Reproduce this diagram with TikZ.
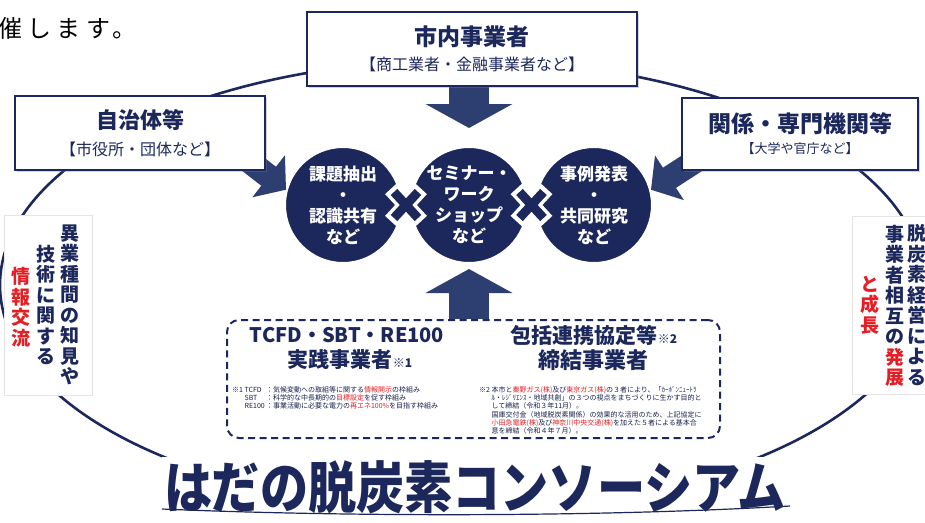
\documentclass[tikz,border=0pt]{standalone}
\usepackage{fontspec}
\usepackage{graphicx}
\newfontfamily\jp{Noto Sans CJK JP}
\usetikzlibrary{arrows.meta,positioning,calc,shadows,backgrounds}
\definecolor{navy}{RGB}{28,40,92}
\definecolor{yajirushi}{RGB}{45,62,112}
\definecolor{aka}{RGB}{228,30,36}
\newcommand{\fs}[2]{\fontsize{#1}{#2}\selectfont}
\tikzset{
  orgbox/.style={draw=navy,line width=1.5pt,fill=white,align=center,text=navy,
    drop shadow={shadow xshift=1.5pt,shadow yshift=-1.5pt,opacity=.35}},
  maru/.style={circle,fill=navy,draw=white,line width=2pt,minimum size=116pt,inner sep=0pt,
    text=white,align=center,font=\jp\bfseries\fs{17}{21}},
  bigarr/.style={yajirushi,line width=40pt,-{Triangle[width=86pt,length=24pt]}},
  smallarr/.style={yajirushi,line width=24pt,-{Triangle[width=52pt,length=22pt]}},
  tate/.style={align=center,inner sep=0pt,text=navy,font=\jp\bfseries\fs{19}{20.5}},
  tatebox/.style={fill=white,draw=black!10,line width=.4pt,inner sep=0pt},
  midashi/.style={text=navy,inner sep=0pt,font=\jp\bfseries\fs{21}{25}},
  note/.style={inner sep=0pt,anchor=north west,font=\jp\fs{7}{7.7},text=navy!80!black},
  titlefont/.style={inner sep=3pt,font=\jp\bfseries\fs{56}{60}},
}

\begin{document}
\begin{tikzpicture}[x=1pt,y=-1pt]
\useasboundingbox (0,0) rectangle (925,522);
\clip (0,0) rectangle (925,522);

\node[anchor=west,font=\jp\fs{24}{26},inner sep=0pt] (kaisai) at (-2,28) {\addfontfeature{LetterSpace=22}催します。};

% 3つの丸
\node[maru] (kadai) at (343,205) {課題抽出\\・\\認識共有\\など};
\node[maru] (seminar) at (469,205) {セミナー・\\ワーク\\ショップ\\など};
\node[maru] (jirei) at (594,205) {事例発表\\・\\共同研究\\など};

\coordinate (kake1) at ($(kadai)!.5!(seminar)$);
\coordinate (kake2) at ($(seminar)!.5!(jirei)$);
\foreach \k in {kake1,kake2} {
  \draw[white,line width=16pt] (\k)+(-15,-16.3) -- +(15,16.3) (\k)+(-15,16.3) -- +(15,-16.3);
  \draw[navy,line width=9pt] (\k)+(-12,-13) -- +(12,13) (\k)+(-12,13) -- +(12,-13);
}

% 箱
\node[orgbox,minimum width=330pt,minimum height=74pt,font=\jp\fs{16}{25}] (shinai) at (472,49)
  {{\bfseries\fs{23}{25}市内事業者}\\【商工業者・金融事業者など】};
\node[orgbox,minimum width=250pt,minimum height=74pt,font=\jp\fs{16}{27}] (jichi) at (140,133)
  {{\bfseries\fs{22}{27}自治体等}\\【市役所・団体など】};
\node[orgbox,minimum width=236pt,minimum height=72pt,font=\jp\fs{13}{21}] (kankei) at (800,134)
  {{\bfseries\fs{23}{21}関係・専門機関等}\\【大学や官庁など】};

% 縦書き
\node[tatebox,minimum width=88pt,minimum height=180pt] (hidari) at (48,305) {};
\node[tate] (hidari1) at (70,305) {異\\業\\種\\間\\の\\知\\見\\や};
\node[tate] (hidari2) at (46,305) {技\\術\\に\\関\\す\\る};
\node[tate,text=aka] (hidari3) at (21,307) {情\\報\\交\\流};

\node[tatebox,minimum width=76pt,minimum height=178pt] (migi) at (890,305) {};
\node[tate] (migi1) at (917,305) {脱\\炭\\素\\経\\営\\に\\よ\\る};
\node[tate] (migi2) at (895,306) {事\\業\\者\\相\\互\\の\\ \textcolor{aka}{発}\\ \textcolor{aka}{展}};
\node[tate,text=aka] (migi3) at (870,305) {と\\成\\長};

% 点線の枠
\node[draw=navy,line width=2pt,dash pattern=on 7pt off 4.5pt,rounded corners=12pt,fill=white,
  minimum width=493pt,minimum height=118pt] (waku) at (473.5,379) {};
\node[midashi,font=\jp\bfseries\fs{20}{24}] (tcfd) at (347,335) {TCFD・SBT・RE100};
\node[midashi] (jissen) at (350,360) {実践事業者{\fs{12}{14}※1}};
\node[midashi] (hokatsu) at (594,335) {包括連携協定等{\fs{12}{14}※2}};
\node[midashi,font=\jp\bfseries\fs{22}{25}] (teiketsu) at (593,360) {締結事業者};

\node[note] (chu1) at (232,386) {\begin{tabular}{@{}l@{\ }l@{\,}l@{}}
※1 & TCFD & ：気候変動への取組等に関する\textcolor{aka}{情報開示}の枠組み\\
 & SBT & ：科学的な中長期的の\textcolor{aka}{目標設定}を促す枠組み\\
 & RE100 & ：事業活動に必要な電力の\textcolor{aka}{再エネ100\%}を目指す枠組み
\end{tabular}};
\node[note] (chu2) at (479,386) {\begin{tabular}{@{}l@{\ }l@{}}
※2 & 本市と\textcolor{aka}{秦野ガス(株)}及び\textcolor{aka}{東京ガス(株)}の３者により、「ｶｰﾎﾞﾝﾆｭｰﾄﾗ\\
 & ﾙ・ﾚｼﾞﾘｴﾝｽ・地域共創」の３つの視点をまちづくりに生かす目的と\\
 & して締結（令和３年11月）。\\
 & 国庫交付金（地域脱炭素関係）の効果的な活用のため、上記協定に\\
 & \textcolor{aka}{小田急電鉄(株)}及び\textcolor{aka}{神奈川中央交通(株)}を加えた５者による基本合\\
 & 意を締結（令和４年７月）。
\end{tabular}};

% タイトル
\node[titlefont,fill=white,text=navy] (title) at (475,487) {\scalebox{.86}[1]{はだの脱炭素コンソーシアム}};
\draw[navy,line width=1.2pt] (162,509) .. controls (350,517) and (600,517) .. (790,506);

\begin{scope}[on background layer]
\draw[navy,line width=2.6pt] (462,285) ellipse [x radius=462, y radius=225];
\draw[bigarr] (seminar.north |- shinai.south) -- ($(seminar.north)+(0,-18)$);
\draw[bigarr] (seminar.south |- waku.north) -- ($(seminar.south)+(0,5)$);
\draw[smallarr] ($(jichi.south east)+(-30,-20)$) -- (kadai.165);
\draw[smallarr] ($(kankei.south west)+(30,-20)$) -- (jirei.15);
\end{scope}
\end{tikzpicture}
\end{document}
